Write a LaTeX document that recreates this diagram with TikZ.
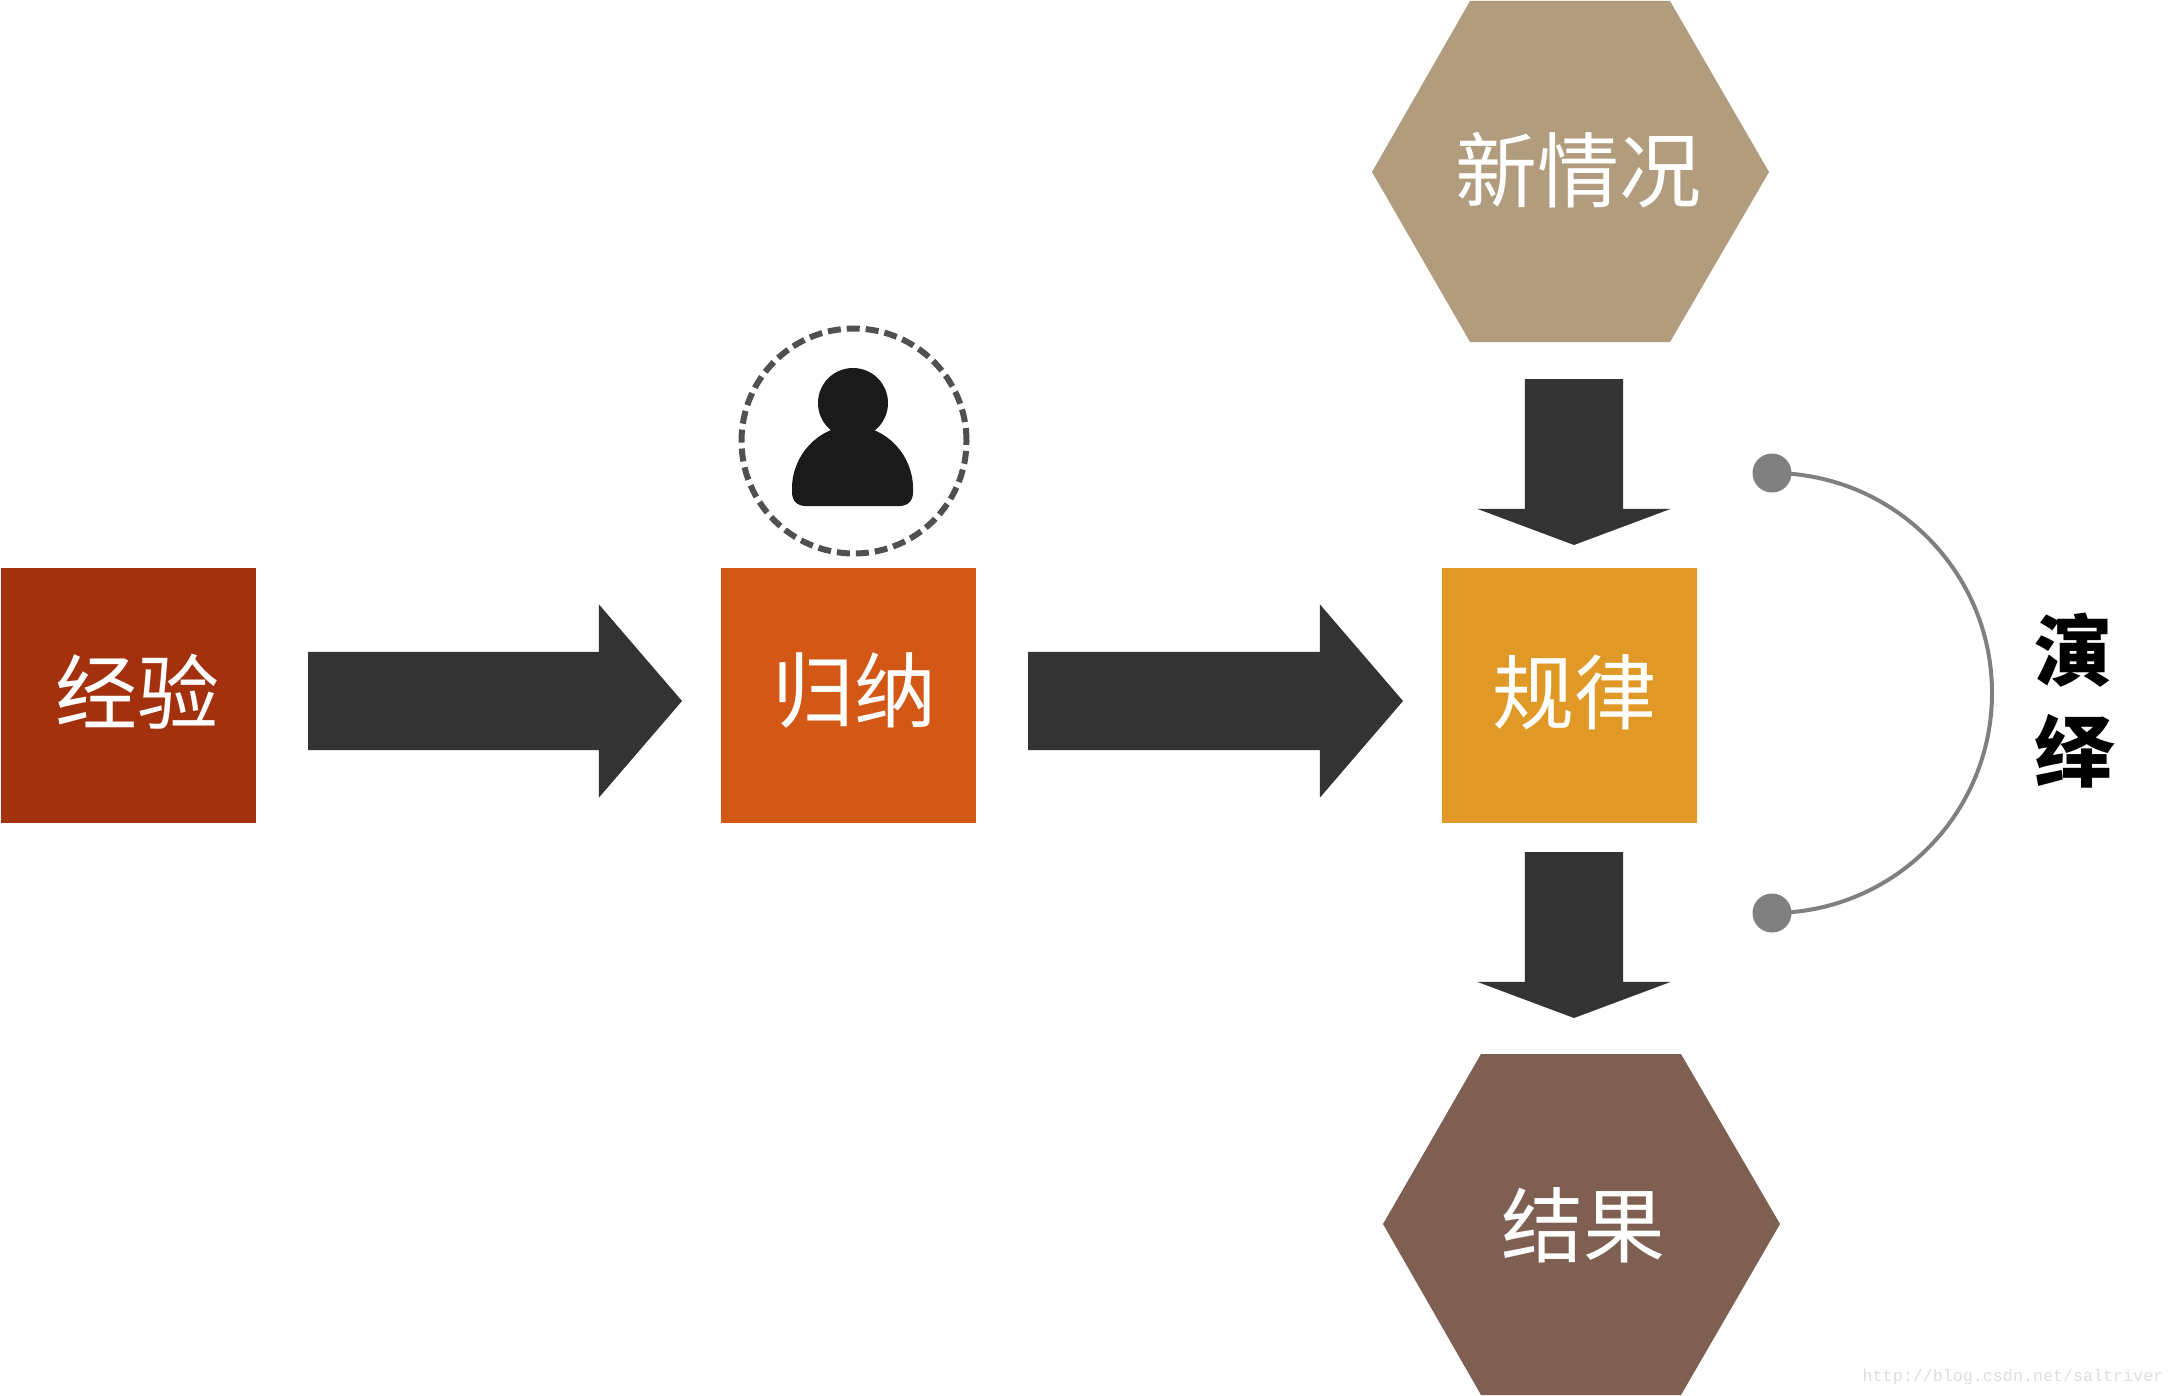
\documentclass[tikz,border=0pt]{standalone}
\usepackage{fontspec}
\setmainfont{Noto Sans CJK SC}
\newfontfamily\urlfont{Liberation Mono}
\usetikzlibrary{shapes.arrows}
\definecolor{rust}{HTML}{A3310D}
\definecolor{burnt}{HTML}{D35816}
\definecolor{amber}{HTML}{E09926}
\definecolor{sand}{HTML}{B19C7D}
\definecolor{umber}{HTML}{7F5F52}
\definecolor{slateblock}{HTML}{333333}
\definecolor{inkfig}{HTML}{1A1A1A}
\definecolor{ringgrey}{HTML}{505050}
\definecolor{bracegrey}{HTML}{808080}
\tikzset{
  squarebox/.style={rectangle,minimum size=255pt,inner sep=0pt,outer sep=0pt},
  boxlabel/.style={text=white,font=\fontsize{82}{82}\selectfont,inner sep=0pt},
  blockbase/.style={single arrow,fill=slateblock,draw=none,inner xsep=0pt,inner ysep=49pt,outer sep=0pt,
    minimum width=193pt,single arrow head extend=47.5pt,anchor=tail},
  rightblock/.style={blockbase,single arrow tip angle=98.6},
  downblock/.style={blockbase,rotate=-90,minimum height=166pt,single arrow tip angle=139},
  bracedot/.style={circle,fill=bracegrey,minimum size=39pt,inner sep=0pt,outer sep=0pt},
  sidelabel/.style={text=black,font=\fontsize{78}{78}\selectfont\bfseries,inner sep=0pt}
}
\begin{document}
\begin{tikzpicture}[x=1pt,y=-1pt]
  \useasboundingbox[fill=white] (0,0) rectangle (2175,1396);

  % Row of square steps
  \node[squarebox,fill=rust]  (exp)  at (128.5,695.5) {};
  \node[squarebox,fill=burnt] (ind)  at (848.5,695.5) {};
  \node[squarebox,fill=amber] (rule) at (1569.5,695.5) {};
  \node[boxlabel] (explabel)  at (137,692) {经验};
  \node[boxlabel] (indlabel)  at (854,690) {归纳};
  \node[boxlabel] (rulelabel) at (1574,692) {规律};

  % Hexagons above and below the rule box
  \fill[sand]  (1470,1) -- (1670,1) -- (1769,172) -- (1670,342) -- (1470,342) -- (1372,172) -- cycle;
  \fill[umber] (1481,1054) -- (1681,1054) -- (1780,1224) -- (1681,1395) -- (1481,1395) -- (1383,1224) -- cycle;
  \node[boxlabel] (newcase) at (1578,170) {新情况};
  \node[boxlabel] (result)  at (1583,1225) {结果};

  % Block arrows
  \node[rightblock,minimum height=374pt] (a1) at (308,701) {};
  \node[rightblock,minimum height=375pt] (a2) at (1028,701) {};
  \node[downblock] (a3) at (1574,379) {};
  \node[downblock] (a4) at (1574,852) {};

  % Person badge above the middle box
  \node[circle,draw=ringgrey,line width=6pt,dash pattern=on 13pt off 6pt,
        minimum size=225pt,inner sep=0pt] (badge) at (854,441) {};
  \fill[inkfig] (853,403) circle[radius=35];
  \fill[inkfig] (792,488)
      .. controls (792,456) and (818,426) .. (852.5,426)
      .. controls (887,426) and (913,456) .. (913,488)
      -- (913,492) .. controls (913,501) and (908,506) .. (899,506)
      -- (806,506) .. controls (797,506) and (792,501) .. (792,492) -- cycle;

  % Bracket with end dots and its vertical caption
  \node[bracedot] (dtop) at (1772,473) {};
  \node[bracedot] (dbot) at (1772,913) {};
  \draw[bracegrey,line width=4pt] (dtop.center) arc[start angle=90,end angle=-90,radius=220pt];
  \node[sidelabel] (cap1) at (2073,650) {演};
  \node[sidelabel] (cap2) at (2073,751) {绎};

  % Site address in the corner
  \node[text=black!13,font=\urlfont\fontsize{16.7}{17}\selectfont,inner sep=0pt] (site) at (2013,1377) {http://blog.csdn.net/saltriver};
\end{tikzpicture}
\end{document}
